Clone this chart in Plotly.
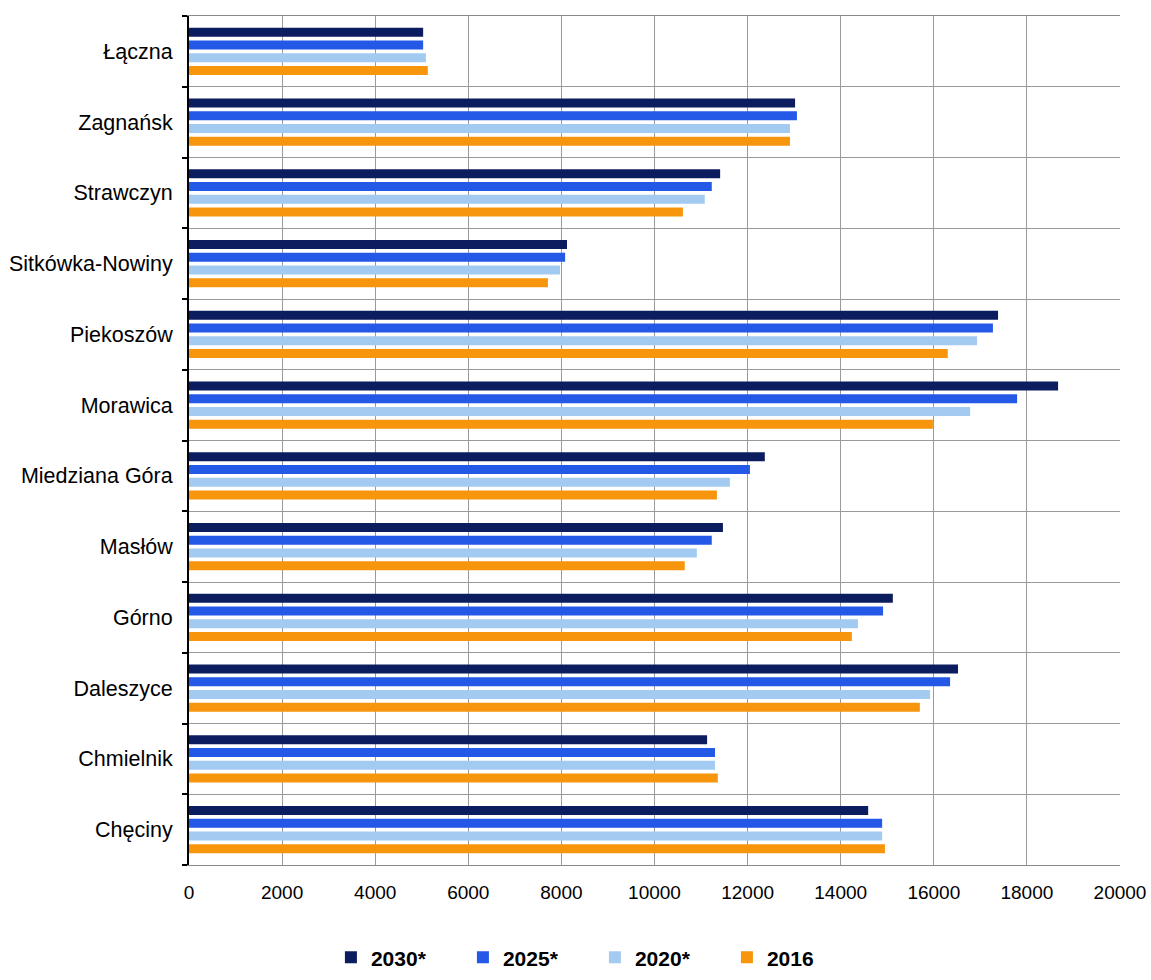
import plotly.graph_objects as go

# Categories listed bottom -> top (as drawn by the category axis)
gminy = ["Chęciny", "Chmielnik", "Daleszyce", "Górno", "Masłów", "Miedziana Góra",
         "Morawica", "Piekoszów", "Sitkówka-Nowiny", "Strawczyn", "Zagnańsk", "Łączna"]

v2016 = [14950, 11360, 15700, 14240, 10650, 11340, 15980, 16300, 7710, 10610, 12910, 5130]
v2020 = [14890, 11300, 15920, 14370, 10910, 11620, 16780, 16930, 7970, 11080, 12910, 5090]
v2025 = [14890, 11300, 16350, 14910, 11230, 12050, 17790, 17270, 8080, 11230, 13060, 5030]
v2030 = [14590, 11130, 16520, 15120, 11470, 12370, 18670, 17380, 8120, 11410, 13020, 5030]

series = [
    ("2016", v2016, "#f7950c"),
    ("2020*", v2020, "#a3cbf2"),
    ("2025*", v2025, "#2458e6"),
    ("2030*", v2030, "#0b1d5e"),
]

x_ticks = [0, 2000, 4000, 6000, 8000, 10000, 12000, 14000, 16000, 18000, 20000]

fig = go.Figure()
for name, vals, col in series:
    fig.add_trace(go.Bar(
        y=gminy, x=vals, name=name, orientation="h",
        marker=dict(color=col, line=dict(width=0)),
    ))

fig.update_layout(
    width=1151, height=980,
    paper_bgcolor="white", plot_bgcolor="white",
    margin=dict(l=189, r=31, t=16, b=115, autoexpand=False),
    barmode="group", bargap=0.28, bargroupgap=0.3,
    font=dict(family="Liberation Sans, Arial, sans-serif", color="black"),
    showlegend=True,
    legend=dict(
        orientation="h", x=0.436, xanchor="center", y=-0.085, yanchor="top",
        traceorder="reversed",
        font=dict(size=21, family="Liberation Sans, Arial, sans-serif", color="black", weight="bold"),
        entrywidth=87, itemwidth=30,
    ),
    xaxis=dict(
        range=[0, 20000], tickvals=x_ticks, ticktext=[str(t) for t in x_ticks],
        showgrid=True, gridcolor="#9a9a9a", gridwidth=1,
        showline=True, linecolor="#8a8a8a", linewidth=1, mirror=True,
        ticks="", tickfont=dict(size=19, color="black"),
        ticklabelstandoff=10,
        zeroline=False, fixedrange=True, automargin=False,
    ),
    yaxis=dict(
        categoryorder="array", categoryarray=gminy,
        tickson="boundaries", ticks="outside", ticklen=5, tickcolor="black", tickwidth=1.5,
        showgrid=True, gridcolor="#9a9a9a", gridwidth=1,
        showline=True, linecolor="black", linewidth=2,
        tickfont=dict(size=21.5, color="black"),
        ticklabelstandoff=10, automargin=False,
    ),
)

fig.write_html("out.html", config={"displayModeBar": False},
               post_script="document.body.style.margin='0';")
